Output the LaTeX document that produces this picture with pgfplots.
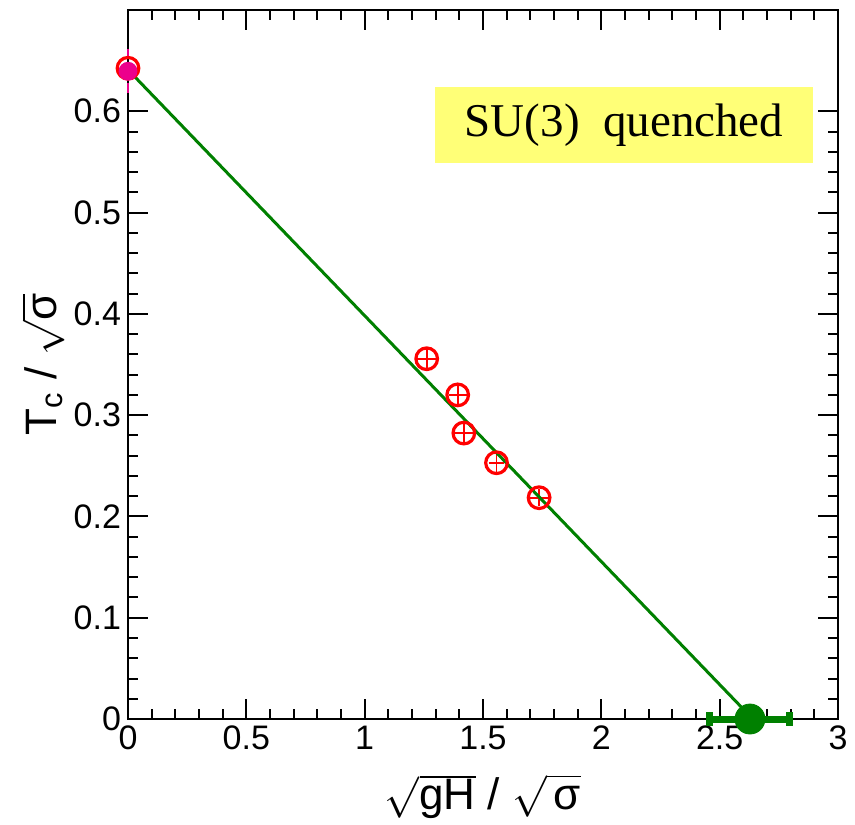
\documentclass[border=0pt]{standalone}
\usepackage{pgfplots}
\pgfplotsset{compat=1.18}
\usepackage{fontspec}
\setmainfont{Liberation Sans}
\newfontfamily\timesfont{Liberation Serif}
\definecolor{fitgreen}{RGB}{0,128,0}
\definecolor{boxyellow}{RGB}{255,255,119}

\begin{document}
\begin{tikzpicture}
\begin{axis}[
  scale only axis, width=355pt, height=354.5pt,
  xmin=0, xmax=3, ymin=0, ymax=0.7,
  xtick={0,0.5,1,1.5,2,2.5,3},
  ytick={0,0.1,0.2,0.3,0.4,0.5,0.6},
  minor x tick num=4, minor y tick num=4,
  major tick length=10pt, minor tick length=5pt,
  tick style={line width=1pt, black},
  axis line style={line width=1pt},
  tick label style={font=\fontsize{17}{20}\selectfont},
  /pgf/number format/assume math mode=true,
  clip=false,
  xlabel={$\sqrt{\mbox{gH}}$ / $\sqrt{\,\mbox{σ}}$},
  ylabel={T\textsubscript{c} / $\sqrt{\mbox{σ}}$},
  label style={font=\fontsize{22}{26}\selectfont},
  xlabel style={at={(rel axis cs:0.5,-0.109)}, anchor=center},
  ylabel style={at={(rel axis cs:-0.12,0.5)}, anchor=center},
]
% lattice points
\addplot[red, only marks, mark=o, mark size=5.4pt,
  mark options={line width=1.6pt},
  error bars/.cd, x dir=both, x explicit, y dir=both, y explicit,
  error bar style={line width=0.9pt},
  error mark options={mark size=2.2pt, line width=0.9pt}]
  coordinates {
  (1.262,0.3557) +- (0.025,0.006)
  (1.393,0.3200) +- (0.020,0.005)
  (1.419,0.2823) +- (0.025,0.007)
  (1.557,0.2530) +- (0.015,0.005)
  (1.737,0.2185) +- (0.020,0.004)
};
% H = 0 point
\addplot[magenta, only marks, mark=none, line width=1.2pt,
  error bars/.cd, y dir=both, y explicit,
  error bar style={line width=1.2pt, dashed},
  error mark options={mark size=2.5pt, line width=1.2pt}]
  coordinates {(0,0.6400) +- (0,0.017)};
\addplot[red, only marks, mark=o, mark size=5.4pt,
  mark options={line width=1.6pt}] coordinates {(0,0.6425)};
\addplot[magenta, only marks, mark=*, mark size=4.5pt] coordinates {(0,0.6395)};
% linear fit
\addplot[fitgreen, line width=1.5pt] coordinates {(0,0.641) (2.64,0)};
% extrapolated critical field
\addplot[fitgreen, only marks, mark=*, mark size=7.5pt,
  error bars/.cd, x dir=both, x explicit,
  error bar style={line width=3.5pt},
  error mark=|,
  error mark options={mark size=3.3pt, line width=3.5pt, yshift=1.5pt}]
  coordinates {(2.628,0) +- (0.169,0)};
\node[fill=boxyellow, minimum width=189pt, minimum height=38pt,
  font=\timesfont\fontsize{23.5}{28}\selectfont, inner sep=0pt]
  at (axis cs:2.096,0.586) {SU(3)\ \ quenched};
\coordinate (bbsw) at (rel axis cs:-0.1803,-0.1481);
\coordinate (bbne) at (rel axis cs:1.0239,1.0141);
\end{axis}
\pgfresetboundingbox
\useasboundingbox (bbsw) rectangle (bbne);
\end{tikzpicture}
\end{document}
